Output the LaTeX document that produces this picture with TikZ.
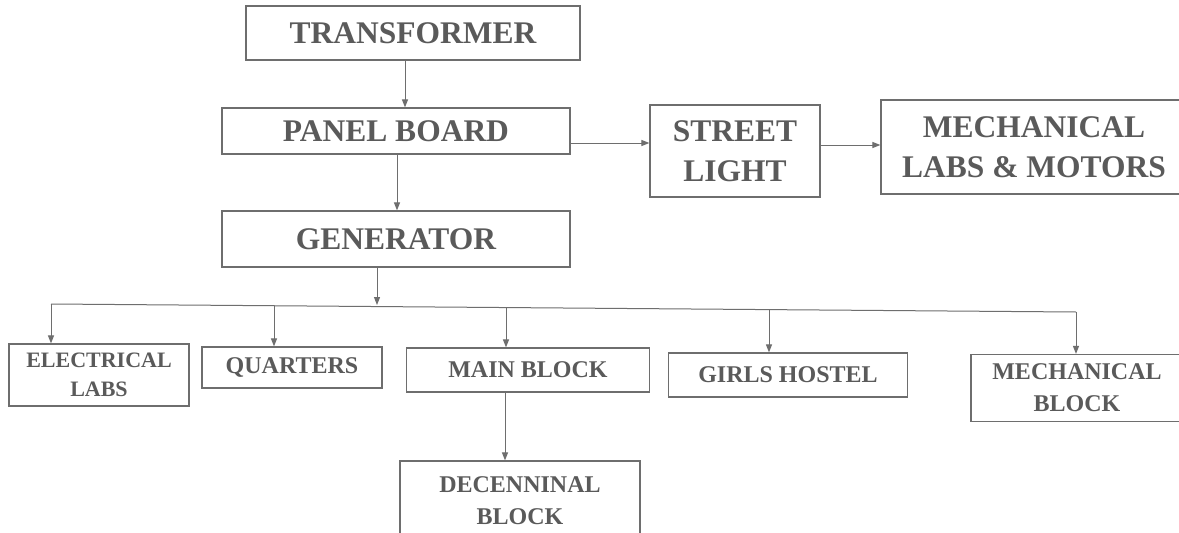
\documentclass[tikz,border=0pt]{standalone}
\usepackage{fontspec}
\setmainfont{Liberation Serif}
\usetikzlibrary{arrows.meta}
\definecolor{ink}{HTML}{5A5A5A}
\definecolor{edge}{HTML}{6E6E6E}
\begin{document}
\begin{tikzpicture}[x=1pt,y=-1pt,
  box/.style={draw=edge, line width=1.2pt, inner sep=0pt, align=center,
    text=ink, font=\bfseries},
  big/.style={font=\fontsize{31.5}{40}\selectfont\bfseries},
  small/.style={font=\fontsize{24}{32}\selectfont\bfseries},
  arr/.style={draw=edge, line width=1pt, -{Triangle[length=8pt,width=6pt]}},
  wire/.style={draw=edge, line width=1pt}]
\useasboundingbox[fill=white] (0,0) rectangle (1179,533);

\node[box,big,minimum width=334pt,minimum height=54pt] (trans) at (413,33) {TRANSFORMER};
\node[box,big,minimum width=348pt,minimum height=46pt] (panel) at (396,131) {PANEL BOARD};
\node[box,big,minimum width=348pt,minimum height=56pt] (gen) at (396,239) {GENERATOR};
\node[box,big,minimum width=170pt,minimum height=92pt] (street) at (735,151) {STREET\\LIGHT};
\node[box,big,minimum width=306pt,minimum height=94pt] (mech) at (1034,147) {MECHANICAL\\LABS \& MOTORS};

\node[box,font=\fontsize{22}{29}\selectfont\bfseries,minimum width=180pt,minimum height=62pt] (elec) at (99,375) {ELECTRICAL\\LABS};
\node[box,small,minimum width=180pt,minimum height=41pt] (quart) at (292,367.5) {QUARTERS};
\node[box,small,minimum width=243pt,minimum height=44pt] (mainb) at (528,370) {MAIN BLOCK};
\node[box,small,minimum width=239pt,minimum height=44pt] (girls) at (788,375) {GIRLS HOSTEL};
\node[box,small,minimum width=212pt,minimum height=67pt] (mechb) at (1077,388) {MECHANICAL\\BLOCK};
\node[box,small,minimum width=240pt,minimum height=80pt] (dec) at (520,501) {DECENNINAL\\BLOCK};

% top chain
\draw[arr] ([xshift=-8pt]trans.south) -- ([xshift=-8pt]trans.south |- panel.north);
\draw[arr] ([xshift=1pt]panel.south) -- ([xshift=1pt]panel.south |- gen.north);
\draw[arr] ([yshift=-12pt]panel.east) -- ([yshift=-12pt]panel.east -| street.west);
\draw[arr] ([yshift=6pt]street.east) -- ([yshift=6pt]street.east -| mech.west);

% bus
\coordinate (busL) at (51,304);
\coordinate (busR) at (1076,312);
\coordinate (gj) at (377,305);
\coordinate (qj) at (274,306);
\coordinate (mj) at (506,308);
\coordinate (hj) at (769,310);
\draw[arr] ([xshift=-19pt]gen.south) -- (gj);
\draw[wire] (busL) -- (busR);
\draw[arr] (busL) -- (busL |- elec.north);
\draw[arr] (qj) -- (qj |- quart.north);
\draw[arr] (mj) -- (mj |- mainb.north);
\draw[arr] (hj) -- (hj |- girls.north);
\draw[arr] (busR) -- (busR |- mechb.north);

\draw[arr] ([xshift=-23pt]mainb.south) -- ([xshift=-23pt]mainb.south |- dec.north);
\end{tikzpicture}
\end{document}
